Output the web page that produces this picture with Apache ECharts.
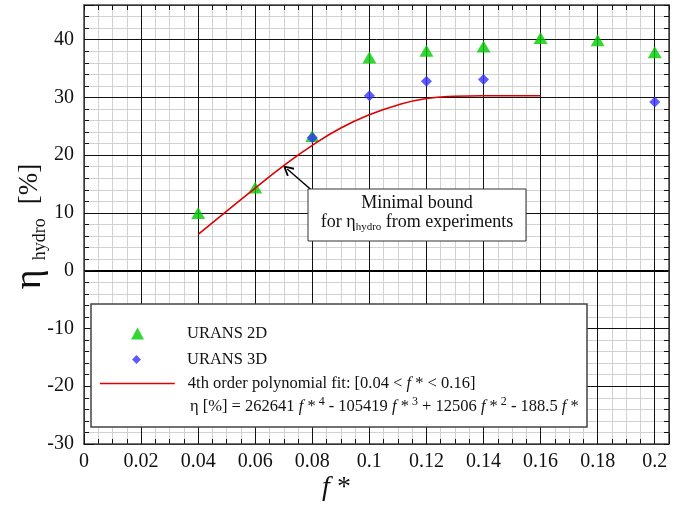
<!DOCTYPE html>
<html><head><meta charset="utf-8">
<script src="https://cdn.jsdelivr.net/npm/echarts@6/dist/echarts.min.js"></script>
<style>html,body{margin:0;padding:0;background:#fff}#c{width:683px;height:506px}</style>
</head><body><div id="c"></div>
<script>
// ---- data ----
const fStar2D = [0.04, 0.06, 0.08, 0.10, 0.12, 0.14, 0.16, 0.18, 0.20];
const eta2D   = [10.0, 14.4, 23.3, 36.9, 38.1, 38.8, 40.3, 39.9, 37.8];
const fStar3D = [0.08, 0.10, 0.12, 0.14, 0.20];
const eta3D   = [23.0, 30.3, 32.8, 33.1, 29.2];
const fStarFit = [0.04, 0.05, 0.06, 0.07, 0.08, 0.09, 0.10, 0.11, 0.12, 0.13, 0.14, 0.15, 0.16];
const etaFit   = [6.3, 10.3, 14.3, 18.2, 21.7, 24.7, 27.0, 28.7, 29.8, 30.2, 30.3, 30.3, 30.3];
const xTickLabels = ['0','0.02','0.04','0.06','0.08','0.1','0.12','0.14','0.16','0.18','0.2'];
const yTickLabels = ['-30','-20','-10','0','10','20','30','40'];
const seriesNames = ['URANS 2D', 'URANS 3D', '4th order polynomial fit'];

const FONT = '"Liberation Serif", "Times New Roman", serif';
const zip = (a, b) => a.map((v, i) => [v, b[i]]);
const chart = echarts.init(document.getElementById('c'), null, {renderer: 'canvas'});

const xMin = 0, xMax = 0.205, xMaj = 0.02, xMin2 = 0.005;
const yMin = -30, yMax = 46, yMaj = 10, yMin2 = 2;

function xLabel(v) {
  const k = v / xMaj;
  if (Math.abs(k - Math.round(k)) > 1e-6) return '';
  return xTickLabels[Math.round(k)] || '';
}
function yLabel(v) {
  const k = (v - yMin) / yMaj;
  if (Math.abs(k - Math.round(k)) > 1e-6) return '';
  return yTickLabels[Math.round(k)] || '';
}

const gridLine = '#111';
const minorLine = '#d2d2d2';
const frame = '#444';
const LFS = 16.5;

const legendText = (pad) => ({fontFamily: FONT, fontSize: LFS, color: '#111', padding: [0, 0, 0, pad],
  rich: {i: {fontFamily: FONT, fontSize: LFS, fontStyle: 'italic', color: '#111'}}});

const option = {
  backgroundColor: '#fff',
  animation: false,
  grid: {left: 84, top: 5, right: 14, bottom: 62, containLabel: false, outerBoundsMode: 'none'},
  xAxis: [
    {type: 'value', position: 'bottom', min: xMin, max: xMax, interval: xMaj, z: 2,
     axisLine: {show: true, onZero: false, lineStyle: {color: frame, width: 1.5}},
     axisTick: {show: true, inside: true, length: 10, lineStyle: {color: '#111'}},
     axisLabel: {formatter: xLabel, fontFamily: FONT, fontSize: 20, color: '#111', margin: 8},
     splitLine: {show: true, lineStyle: {color: gridLine, width: 1}},
     name: '{i|f} *', nameLocation: 'middle', nameGap: 30, nameMoveOverlap: false,
     nameTextStyle: {fontFamily: FONT, fontSize: 28, color: '#111', padding: [0, 80, 0, 0],
       rich: {i: {fontFamily: FONT, fontSize: 28, fontStyle: 'italic', color: '#111'}}}},
    {type: 'value', position: 'bottom', min: xMin, max: xMax, interval: xMin2, z: 1,
     axisLine: {show: false, onZero: false},
     axisTick: {show: true, inside: true, length: 5, lineStyle: {color: '#111'}},
     axisLabel: {show: false},
     splitLine: {show: true, lineStyle: {color: minorLine, width: 1}}},
    {type: 'value', position: 'top', min: xMin, max: xMax, interval: xMin2, z: 2,
     axisLine: {show: true, onZero: false, lineStyle: {color: frame, width: 1.5}},
     axisTick: {show: true, inside: true, length: 5, lineStyle: {color: '#111'}},
     axisLabel: {show: false}, splitLine: {show: false}}
  ],
  yAxis: [
    {type: 'value', position: 'left', min: yMin, max: yMax, interval: yMaj, z: 2,
     axisLine: {show: true, onZero: false, lineStyle: {color: frame, width: 1.5}},
     axisTick: {show: true, inside: true, length: 10, lineStyle: {color: '#111'}},
     axisLabel: {formatter: yLabel, fontFamily: FONT, fontSize: 20, color: '#111', margin: 10},
     splitLine: {show: true, lineStyle: {color: gridLine, width: 1}},
     name: '{eta|η}{sub|hydro}{pct|[%]}', nameLocation: 'middle', nameRotate: 90, nameGap: 35,
     nameMoveOverlap: false,
     nameTextStyle: {fontFamily: FONT, color: '#111',
       rich: {eta: {fontFamily: FONT, fontSize: 38, lineHeight: 38, color: '#111'},
              sub: {fontFamily: FONT, fontSize: 18, lineHeight: 22, verticalAlign: 'bottom', color: '#111', padding: [0, 0, 0, 9]},
              pct: {fontFamily: FONT, fontSize: 27, lineHeight: 38, color: '#111', padding: [0, 4, 0, 14]}}}},
    {type: 'value', position: 'left', min: yMin, max: yMax, interval: yMin2, z: 1,
     axisLine: {show: false, onZero: false},
     axisTick: {show: true, inside: true, length: 5, lineStyle: {color: '#111'}},
     axisLabel: {show: false},
     splitLine: {show: true, lineStyle: {color: minorLine, width: 1}}},
    {type: 'value', position: 'right', min: yMin, max: yMax, interval: yMin2, z: 2,
     axisLine: {show: true, onZero: false, lineStyle: {color: frame, width: 1.5}},
     axisTick: {show: true, inside: true, length: 5, lineStyle: {color: '#111'}},
     axisLabel: {show: false}, splitLine: {show: false}}
  ],
  legend: [
    {data: [seriesNames[0]], left: 131, top: 325, orient: 'vertical', padding: 0, itemWidth: 13, itemHeight: 12,
     selectedMode: false, z: 20, textStyle: legendText(38)},
    {data: [seriesNames[1]], left: 132, top: 351, orient: 'vertical', padding: 0, itemWidth: 9, itemHeight: 9,
     selectedMode: false, z: 20, textStyle: legendText(41)},
    {data: [seriesNames[2]], left: 99, top: 375, orient: 'vertical', padding: 0, itemWidth: 75, itemHeight: 14,
     selectedMode: false, z: 20, textStyle: legendText(8), itemStyle: {opacity: 0},
     lineStyle: {color: '#dd0000', width: 1.6},
     formatter: () => '4th order polynomial fit: [0.04 < {i|f} * < 0.16]'}
  ],
  graphic: [
    {type: 'rect', z: 10, shape: {x: 91, y: 304, width: 496, height: 123},
     style: {fill: '#fff', stroke: '#444', lineWidth: 1.5}},
    {type: 'text', z: 21, x: 190, y: 407,
     style: {text: 'η [%] = 262641 {i|f} *{sup|4} - 105419 {i|f} *{sup|3} + 12506 {i|f} *{sup|2} - 188.5 {i|f} *',
       fontFamily: FONT, fontSize: LFS, fill: '#111', verticalAlign: 'middle', lineHeight: 22,
       rich: {i: {fontFamily: FONT, fontSize: LFS, fontStyle: 'italic', fill: '#111', lineHeight: 22},
              sup: {fontFamily: FONT, fontSize: 12, verticalAlign: 'top', lineHeight: 12, fill: '#111', padding: [0, 0, 0, 3]}}}},
    {type: 'group', x: 308, y: 189, z: 10, children: [
      {type: 'rect', z: 10, shape: {x: 0, y: 0, width: 218, height: 52},
       style: {fill: '#fff', stroke: '#333', lineWidth: 1}},
      {type: 'text', z: 11, x: 109, y: 14,
       style: {text: 'Minimal bound', fontFamily: FONT, fontSize: 18, fill: '#111', align: 'center', verticalAlign: 'middle'}},
      {type: 'text', z: 11, x: 109, y: 33,
       style: {text: 'for {eta|η}{sub|hydro} from experiments', fontFamily: FONT, fontSize: 18, fill: '#111',
         align: 'center', verticalAlign: 'middle', lineHeight: 22,
         rich: {eta: {fontFamily: FONT, fontSize: 18, lineHeight: 22, fill: '#111'},
                sub: {fontFamily: FONT, fontSize: 11, lineHeight: 10, verticalAlign: 'bottom', fill: '#111'}}}}
    ]}
  ],
  series: [
    {name: seriesNames[0], type: 'scatter', xAxisIndex: 0, yAxisIndex: 0, z: 3,
     symbol: 'triangle', symbolSize: [14, 12], itemStyle: {color: '#00cc00'},
     data: zip(fStar2D, eta2D),
     markLine: {silent: true, symbol: ['none', 'none'], label: {show: false}, z: 2,
       lineStyle: {color: '#000', width: 2, type: 'solid'}, data: [{yAxis: 0}]}},
    {name: seriesNames[1], type: 'scatter', xAxisIndex: 0, yAxisIndex: 0, z: 4,
     symbol: 'diamond', symbolSize: 11, itemStyle: {color: '#3333ff'},
     data: zip(fStar3D, eta3D)},
    {name: seriesNames[2], type: 'line', xAxisIndex: 0, yAxisIndex: 0, z: 5,
     smooth: true, symbol: 'none', lineStyle: {color: '#dd0000', width: 1.6}, itemStyle: {color: '#dd0000'},
     data: zip(fStarFit, etaFit),
     markLine: {silent: true, symbol: ['none', 'path://M5,0 L10,9 L8.6,10 L5,3.2 L1.4,10 L0,9 Z'], symbolSize: [11, 11],
       label: {show: false}, lineStyle: {color: '#000', width: 1.5, type: 'solid'},
       data: [[{coord: [0.0794, 14.1]}, {coord: [0.0712, 17.6]}]]}}
  ]
};
chart.setOption(option);
</script>
</body></html>
